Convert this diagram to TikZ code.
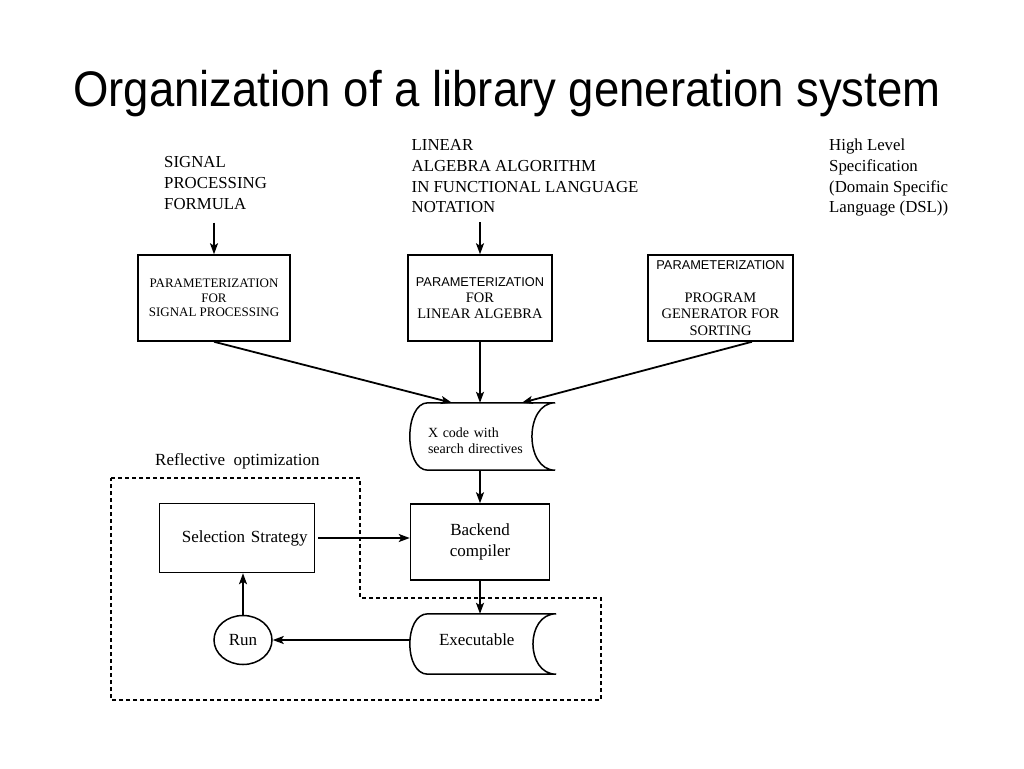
\documentclass[tikz,border=0pt]{standalone}
\usepackage{fontspec}
\setmainfont{Liberation Serif}
\setsansfont{Liberation Sans}
\newfontfamily\titlefont[FakeStretch=0.91]{Liberation Sans}
\usetikzlibrary{calc}
\usetikzlibrary{positioning}
\usetikzlibrary{arrows.meta}
\usetikzlibrary{shapes.geometric}

% outline of a stored-data node: round on the left, hollow on the right
\newcommand{\storeshape}[1]{%
  \draw[line width=1.5pt] ($(#1.north west)+(18,0)$) .. controls ($(#1.north west)+(-6,0)$) and ($(#1.south west)+(-6,0)$) .. ($(#1.south west)+(18,0)$) -- (#1.south east) .. controls ($(#1.south east)+(-31,0)$) and ($(#1.north east)+(-31,0)$) .. (#1.north east) -- cycle;}

\begin{document}
\begin{tikzpicture}[x=1pt,y=-1pt,
	box/.style={draw,line width=1.5pt,inner sep=0pt,align=center},
	store/.style={inner sep=0pt,align=left},
	arr/.style={-{Stealth[length=11pt,width=8pt,inset=2.5pt]},line width=1.8pt},
	txt/.style={inner sep=0pt,align=left,anchor=north west,font=\fontsize{16.8}{20.7}\selectfont},
	frame/.style={line width=1.2pt,dash pattern=on 4pt off 3pt}]
	\fill[white] (0,0) rectangle (1024,768);
	\useasboundingbox (0,0) rectangle (1024,768);
	\node[anchor=base,inner sep=0pt,font=\titlefont\fontsize{50}{55}\selectfont] (title) at (507,106) {Organization of a library generation system};
	% inputs
	\node[txt] (sigtxt) at (164,156.6) {SIGNAL\\PROCESSING\\FORMULA};
	\node[txt] (lintxt) at (411.5,139.6) {LINEAR\\ALGEBRA ALGORITHM\\IN FUNCTIONAL LANGUAGE\\NOTATION};
	\node[txt] (dsltxt) at (829,139) {High Level\\Specification\\(Domain Specific\\Language (DSL))};
	% generators
	\node[box,minimum width=152,minimum height=86,font=\fontsize{13}{14.5}\selectfont] (sigbox) at (214,298) {PARAMETERIZATION\\FOR\\SIGNAL PROCESSING};
	\node[box,minimum width=144,minimum height=86,font=\fontsize{14.5}{16.3}\selectfont] (linbox) at (480,298) {{\sffamily\fontsize{12.8}{16.3}\selectfont PARAMETERIZATION}\\FOR\\LINEAR ALGEBRA};
	\node[box,minimum width=145,minimum height=86,font=\fontsize{14.5}{16.3}\selectfont] (sortbox) at (720.5,298) {{\sffamily\fontsize{12.8}{16.3}\selectfont PARAMETERIZATION}\\[16.3pt]PROGRAM\\GENERATOR FOR\\SORTING};
	% code and compiler
	\node[store,inner xsep=18,text width=109,text height=18.6,minimum height=67,font=\fontsize{14}{16}\selectfont] (xcode) at (482.5,436.5) {X code with\\search directives};
	\storeshape{xcode}
	\node[box,minimum width=139,minimum height=76,font=\fontsize{17}{21}\selectfont] (backend) at (480,542) {Backend\\compiler};
	\node[store,inner xsep=29,text width=88,text depth=8,minimum height=60,font=\fontsize{17}{20}\selectfont] (exe) at (483,644) {Executable};
	\storeshape{exe}
	% reflective loop
	\node[box,align=right,inner xsep=7,text width=141,minimum height=69,font=\fontsize{17}{20}\selectfont] (sel) at (237,538) {Selection Strategy};
	\node[draw,ellipse,line width=1.5pt,inner sep=0pt,minimum width=58,minimum height=49,font=\fontsize{17}{20}\selectfont] (run) at (243,640) {Run};
	\draw[frame] (111,478) -- (360,478) -- (360,598) -- (601,598) -- (601,700) -- (111,700) -- cycle;
	\node[anchor=base west,inner sep=0pt,font=\fontsize{17}{20}\selectfont] (refl) at (155,465.5) {Reflective\ \ optimization};
	% connectors
	\draw[arr] ($(sigtxt.south -| sigbox.north)+(0,13)$) -- (sigbox.north);
	\draw[arr] ($(lintxt.south -| linbox.north)+(0,9)$) -- (linbox.north);
	\draw[arr] (sigbox.south) -- ($(xcode.north west)!0.29!(xcode.north east)$);
	\draw[arr] (linbox.south -| backend) -- (backend |- xcode.north);
	\draw[arr] ($(sortbox.south)!0.43!(sortbox.south east)$) -- ($(xcode.north west)!0.77!(xcode.north east)$);
	\draw[arr] (xcode.south -| backend) -- (backend.north);
	\draw[arr] (backend.south) -- (backend |- exe.north);
	\draw[arr] ([xshift=3pt]sel.east) -- (sel.east -| backend.west);
	\draw[arr] (run -| exe.west) -- (run.east);
	\draw[arr] (run.north) -- (run |- sel.south);
\end{tikzpicture}
\end{document}
